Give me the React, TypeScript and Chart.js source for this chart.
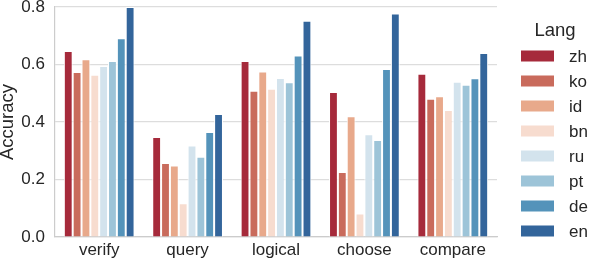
import React, { useEffect, useRef } from "react";
import { Chart, registerables } from "chart.js";

Chart.register(...registerables);

const categories = ["verify", "query", "logical", "choose", "compare"];
const langs = ["zh", "ko", "id", "bn", "ru", "pt", "de", "en"];
const colors = ["#a62a3b", "#c96b5c", "#e8a98b", "#f7dccf", "#d3e3ed", "#9dc4d8", "#5493ba", "#33659b"];

const zh = [0.647, 0.348, 0.612, 0.504, 0.568];
const ko = [0.574, 0.257, 0.509, 0.226, 0.481];
const id = [0.618, 0.249, 0.576, 0.42, 0.49];
const bn = [0.564, 0.117, 0.516, 0.082, 0.442];
const ru = [0.595, 0.318, 0.553, 0.357, 0.54];
const pt = [0.612, 0.279, 0.538, 0.337, 0.53];
const de = [0.691, 0.365, 0.631, 0.584, 0.552];
const en = [0.8, 0.428, 0.752, 0.777, 0.64];
const seriesValues = [zh, ko, id, bn, ru, pt, de, en];

const yTicks = [0, 0.2, 0.4, 0.6, 0.8];
const legendTitle = "Lang";
const yTitle = "Accuracy";

const FONT = "'Liberation Sans', Arial, sans-serif";
const FS = 17;
const FS_TITLE = 18.5;

const legendPlugin = {
  id: "customLegend",
  afterDraw(chart: any) {
    const ctx = chart.ctx;
    ctx.save();
    ctx.fillStyle = "#262626";
    ctx.font = `${FS_TITLE}px ${FONT}`;
    ctx.textAlign = "center";
    ctx.textBaseline = "middle";
    ctx.fillText(legendTitle, 555, 31);
    ctx.font = `${FS}px ${FONT}`;
    chart.data.datasets.forEach((ds: any, i: number) => {
      const cy = 56 + i * 25;
      ctx.fillStyle = ds.backgroundColor;
      ctx.fillRect(521, cy - 5.5, 33, 11);
      ctx.fillStyle = "#262626";
      ctx.textAlign = "left";
      ctx.fillText(ds.label, 569, cy + 1);
    });
    ctx.restore();
  },
};

export default function App() {
  const ref = useRef<HTMLCanvasElement>(null);
  useEffect(() => {
    document.body.style.margin = "0";
    const chart = new Chart(ref.current!, {
      type: "bar",
      data: {
        labels: categories,
        datasets: langs.map((l, i) => ({
          label: l,
          data: seriesValues[i],
          backgroundColor: colors[i],
          borderColor: "#ffffff",
          borderWidth: 1,
          categoryPercentage: 0.8,
          barPercentage: 1.0,
        })),
      },
      options: {
        responsive: false,
        animation: false,
        devicePixelRatio: 1,
        layout: { padding: { left: -1, right: 101, top: 0, bottom: 0 } },
        plugins: {
          legend: { display: false },
          tooltip: { enabled: false },
        },
        scales: {
          x: {
            afterFit: (axis: any) => {
              axis.height = 27;
            },
            grid: { display: false, drawTicks: false },
            border: { display: true, color: "#cccccc", width: 1.2 },
            ticks: { color: "#262626", font: { family: FONT, size: FS, lineHeight: 1.2 }, padding: 3 },
          },
          y: {
            min: 0,
            max: 0.8,
            afterBuildTicks: (axis: any) => {
              axis.ticks = yTicks.map((v) => ({ value: v }));
            },
            afterFit: (axis: any) => {
              axis.width = 56;
              axis.paddingTop = 7;
            },
            grid: { color: "#dddddd", lineWidth: 1.2, drawTicks: false },
            border: { display: true, color: "#cccccc", width: 1.2 },
            ticks: {
              color: "#262626",
              font: { family: FONT, size: FS },
              padding: 10,
              callback: (v: any) => Number(v).toFixed(1),
            },
            title: {
              display: true,
              text: yTitle,
              color: "#262626",
              font: { family: FONT, size: FS_TITLE, lineHeight: 1 },
              padding: { top: 0, bottom: 0 },
            },
          },
        },
      },
      plugins: [legendPlugin],
    });
    return () => chart.destroy();
  }, []);
  return (
    <div style={{ position: "absolute", left: 0, top: 0, width: 598, height: 264 }}>
      <canvas ref={ref} width={598} height={264} style={{ width: 598, height: 264 }} />
    </div>
  );
}
